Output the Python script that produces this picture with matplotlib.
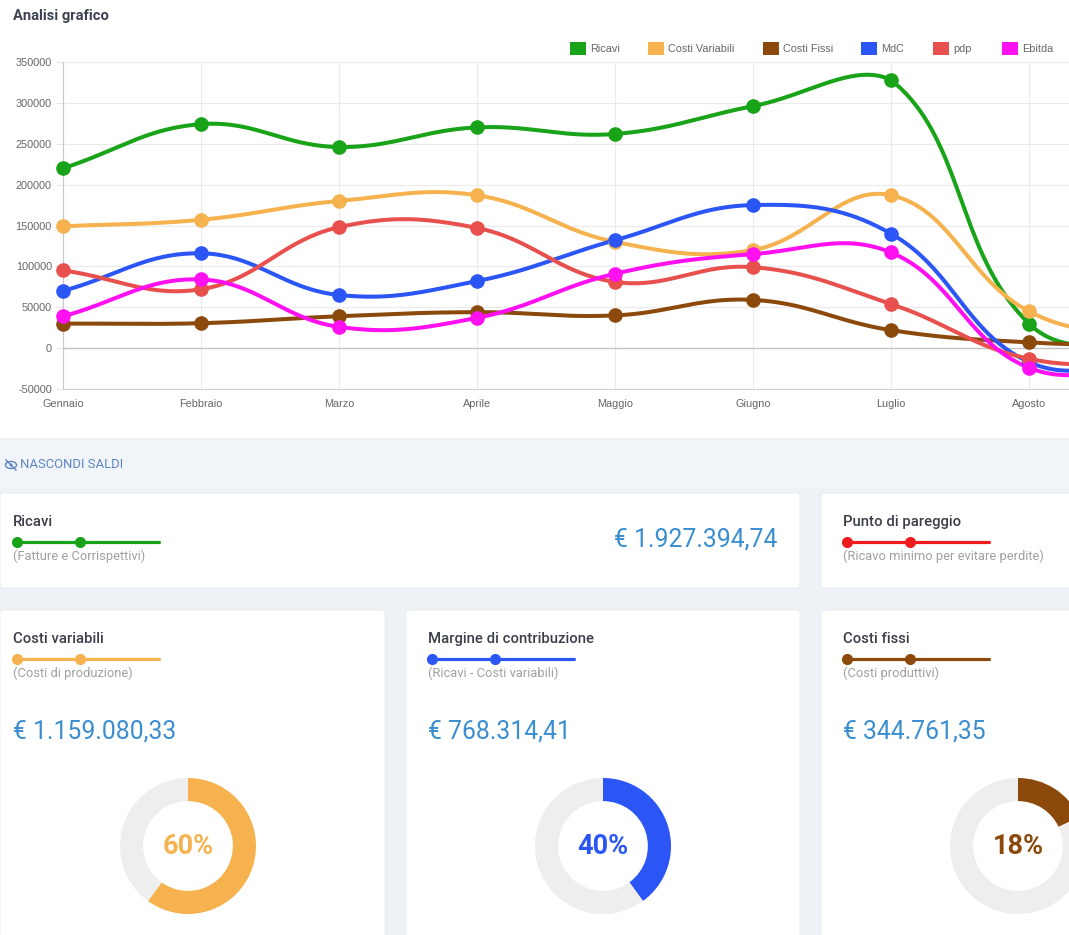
import numpy as np
import matplotlib
matplotlib.use("Agg")
import matplotlib.pyplot as plt
from matplotlib.patches import Rectangle, FancyBboxPatch, Ellipse

# ---------------- data ----------------
months = ["Gennaio", "Febbraio", "Marzo", "Aprile", "Maggio", "Giugno", "Luglio", "Agosto", "Settembre"]
ricavi = [220000, 274000, 246000, 270000, 262000, 296000, 328000, 30000, 0]
costi_variabili = [149000, 157000, 180000, 187000, 130000, 120000, 187000, 45000, 10000]
costi_fissi = [30000, 30500, 39000, 44000, 40000, 59000, 22000, 7000, 3000]
mdc = [70000, 116000, 65000, 82000, 132000, 175000, 140000, -17000, -12000]
pdp = [95000, 72000, 148000, 147000, 81000, 99000, 54000, -13000, -17000]
ebitda = [39000, 84000, 26000, 37000, 91000, 115000, 117000, -24000, -16000]

series_names = ["Ricavi", "Costi Variabili", "Costi Fissi", "MdC", "pdp", "Ebitda"]
series_values = [ricavi, costi_variabili, costi_fissi, mdc, pdp, ebitda]
series_colors = ["#18a318", "#f5b24e", "#8b4a0c", "#2b56f5", "#e8504e", "#ff10f0"]

y_ticks = [-50000, 0, 50000, 100000, 150000, 200000, 250000, 300000, 350000]

card_titles = ["Ricavi", "Punto di pareggio", "Costi variabili", "Margine di contribuzione", "Costi fissi"]
card_subtitles = ["(Fatture e Corrispettivi)", "(Ricavo minimo per evitare perdite)",
                  "(Costi di produzione)", "(Ricavi - Costi variabili)", "(Costi produttivi)"]
card_colors = ["#18a318", "#ee1c1c", "#f5b24e", "#2b56f5", "#8b4a0c"]
card_amounts = ["€ 1.927.394,74", "", "€ 1.159.080,33", "€ 768.314,41", "€ 344.761,35"]
donut_pcts = [60, 40, 18]
donut_colors = ["#f5b24e", "#2b56f5", "#8b4a0c"]

# ---------------- figure ----------------
W, H = 1069, 935
fig = plt.figure(figsize=(W / 100, H / 100), dpi=100)
fig.patch.set_facecolor("white")

bg = fig.add_axes([0, 0, 1, 1], zorder=0)
bg.set_xlim(0, W)
bg.set_ylim(H, 0)
bg.axis("off")

CARD_FONT = ["Roboto", "DejaVu Sans"]
CHART_FONT = ["Liberation Sans", "DejaVu Sans"]

# lower background
bg.add_patch(Rectangle((0, 438), W, H - 438, facecolor="#eef2f6", edgecolor="none"))
bg.add_patch(Rectangle((0, 440), W, 48, facecolor="#f1f4f8", edgecolor="none"))

# title
bg.text(13, 16, "Analisi grafico", fontsize=10.6, fontweight="bold", color="#3c4250",
        va="center", ha="left", family=CARD_FONT)

# NASCONDI SALDI with eye icon
bg.add_patch(Ellipse((11, 465), 11, 7, facecolor="none", edgecolor="#5b86c0", lw=1.0))
bg.add_patch(Ellipse((11, 465), 3, 3, facecolor="#5b86c0", edgecolor="none"))
bg.plot([6, 16], [460, 470], color="#5b86c0", lw=1.0)
bg.text(20, 465, "NASCONDI SALDI", fontsize=9.4, color="#5b86c0", va="center", ha="left",
        family=CARD_FONT)

# cards
cards = [(0, 493, 800, 95), (821, 493, 260, 95),
         (0, 610, 385, 340), (406, 610, 394, 340), (821, 610, 260, 340)]
for (cx, cy, cw, ch) in cards:
    bg.add_patch(FancyBboxPatch((cx, cy), cw, ch, boxstyle="round,pad=0,rounding_size=3",
                                facecolor="white", edgecolor="#e6ebf0", lw=0.6))

title_pos = [(13, 522), (843, 522), (13, 639), (428, 639), (843, 639)]
for i, (tx, ty) in enumerate(title_pos):
    bg.text(tx, ty, card_titles[i], fontsize=10.7, fontweight="medium", color="#3a3f4a",
            va="center", ha="left", family=CARD_FONT)
    ly = ty + 19.5
    bg.plot([tx + 4, tx + 146], [ly, ly], color=card_colors[i], lw=2.3, solid_capstyle="round")
    bg.plot([tx + 4, tx + 67], [ly, ly], "o", color=card_colors[i], ms=7)
    bg.text(tx, ty + 34, card_subtitles[i], fontsize=9.3, color="#a0a0a0",
            va="center", ha="left", family=CARD_FONT)

# amounts
bg.text(777, 539, card_amounts[0], fontsize=17.8, color="#3a8ed0",
        va="center", ha="right", family=CARD_FONT)
for i, tx in zip([2, 3, 4], [13, 428, 843]):
    bg.text(tx, 731, card_amounts[i], fontsize=17.8, color="#3a8ed0",
            va="center", ha="left", family=CARD_FONT)

# donuts
R_OUT = 68
centers = [188, 603, 1018]
for k, cxd in enumerate(centers):
    dax = fig.add_axes([(cxd - R_OUT) / W, (H - 846 - R_OUT) / H, 2 * R_OUT / W, 2 * R_OUT / H],
                       zorder=2)
    p = donut_pcts[k]
    dax.pie([p, 100 - p], colors=[donut_colors[k], "#eeeeee"], startangle=90,
            counterclock=False, radius=1.0, wedgeprops=dict(width=0.34, edgecolor="none"))
    dax.set_xlim(-1, 1)
    dax.set_ylim(-1, 1)
    dax.text(0, 0, f"{p}%", fontsize=19.5, fontweight="bold", color=donut_colors[k],
             ha="center", va="center", family=CARD_FONT)

# ---------------- line chart ----------------
PX_X = 138.0
ax_left, ax_top, ax_bottom = 63, 62, 389
nx = len(months) - 1
ax = fig.add_axes([ax_left / W, (H - ax_bottom) / H, nx * PX_X / W, (ax_bottom - ax_top) / H],
                  zorder=3)
ax.set_facecolor("none")
ax.set_xlim(0, nx)
Y_MIN, Y_MAX = -50000, 350000
ax.set_ylim(Y_MIN, Y_MAX)
py_per_unit = (ax_bottom - ax_top) / float(Y_MAX - Y_MIN)


def chartjs_spline(xs, ys, tension=0.4, n=40):
    X = np.asarray(xs, float) * PX_X
    Y = np.asarray(ys, float) * py_per_unit
    ylo, yhi = Y_MIN * py_per_unit, Y_MAX * py_per_unit
    m = len(X)
    cpn = np.zeros((m, 2))
    cpp = np.zeros((m, 2))
    for i in range(m):
        p0 = (X[max(i - 1, 0)], Y[max(i - 1, 0)])
        p1 = (X[i], Y[i])
        p2 = (X[min(i + 1, m - 1)], Y[min(i + 1, m - 1)])
        d01 = np.hypot(p1[0] - p0[0], p1[1] - p0[1])
        d12 = np.hypot(p2[0] - p1[0], p2[1] - p1[1])
        tot = d01 + d12
        s01 = d01 / tot if tot else 0
        s12 = d12 / tot if tot else 0
        fa, fb = tension * s01, tension * s12
        cpp[i] = (p1[0] - fa * (p2[0] - p0[0]), p1[1] - fa * (p2[1] - p0[1]))
        cpn[i] = (p1[0] + fb * (p2[0] - p0[0]), p1[1] + fb * (p2[1] - p0[1]))
    # cap control points to the chart area (as Chart.js does)
    cpp[:, 1] = np.clip(cpp[:, 1], ylo, yhi)
    cpn[:, 1] = np.clip(cpn[:, 1], ylo, yhi)
    outx, outy = [], []
    t = np.linspace(0, 1, n)
    for i in range(m - 1):
        P0 = np.array([X[i], Y[i]])
        P1 = cpn[i]
        P2 = cpp[i + 1]
        P3 = np.array([X[i + 1], Y[i + 1]])
        pts = ((1 - t)[:, None] ** 3 * P0 + 3 * ((1 - t) ** 2 * t)[:, None] * P1
               + 3 * ((1 - t) * t ** 2)[:, None] * P2 + (t ** 3)[:, None] * P3)
        outx.extend(pts[:, 0])
        outy.extend(pts[:, 1])
    return np.array(outx) / PX_X, np.array(outy) / py_per_unit


xs = np.arange(len(months))
for name, vals, col in zip(series_names, series_values, series_colors):
    sx, sy = chartjs_spline(xs, vals)
    ax.plot(sx, sy, color=col, lw=2.9, clip_on=False, solid_capstyle="round", zorder=3)
    ax.plot(xs, vals, "o", color=col, ms=9.5, clip_on=False, zorder=4)

ax.set_xticks(xs)
ax.set_xticklabels(months[:-1] + [""], family=CHART_FONT, fontsize=7.8, color="#666666")
ax.set_yticks(y_ticks)
ax.set_yticklabels([str(v) for v in y_ticks], family=CHART_FONT, fontsize=7.8, color="#666666")
ax.tick_params(axis="y", length=5, color="#e6e6e6", pad=3)
ax.tick_params(axis="x", length=0, pad=7.5)
ax.grid(True, color="#ebebeb", lw=0.8, zorder=0)
ax.set_axisbelow(True)
ax.axhline(0, color="#c4c4c4", lw=1.0, zorder=1)
for s in ["top", "right"]:
    ax.spines[s].set_visible(False)
ax.spines["left"].set_color("#c8c8c8")
ax.spines["bottom"].set_color("#d0d0d0")
ax.spines["left"].set_linewidth(0.8)
ax.spines["bottom"].set_linewidth(0.8)

# legend (drawn in figure pixel space)
leg_items = [(570, "Ricavi"), (648, "Costi Variabili"), (763, "Costi Fissi"),
             (861, "MdC"), (933, "pdp"), (1002, "Ebitda")]
for (lx, lab), col in zip(leg_items, series_colors):
    bg.add_patch(Rectangle((lx, 42), 16, 13, facecolor=col, edgecolor="none"))
    bg.text(lx + 20, 48.5, lab, fontsize=7.8, color="#666666", va="center", ha="left",
            family=CHART_FONT)

fig.savefig("out.png", dpi=100, facecolor=fig.get_facecolor())
